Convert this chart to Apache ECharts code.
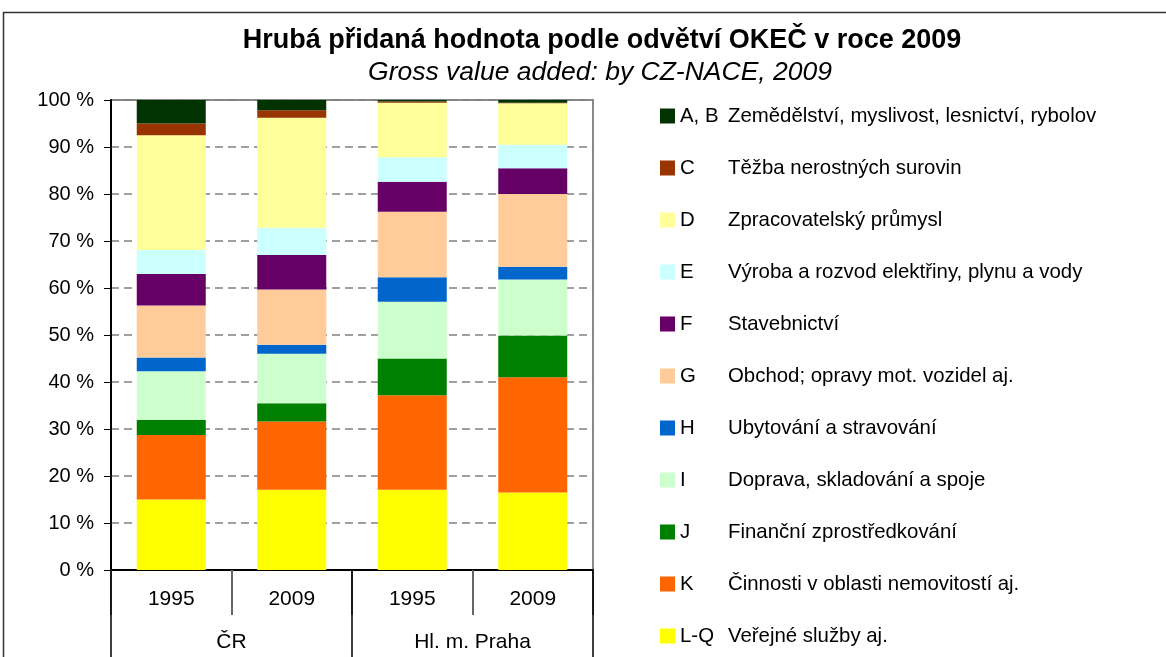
<!DOCTYPE html>
<html>
<head>
<meta charset="utf-8">
<title>Hrubá přidaná hodnota podle odvětví</title>
<script src="https://cdn.jsdelivr.net/npm/echarts@6/dist/echarts.min.js"></script>
<style>
  body { margin: 0; background: #fff; }
  #main { width: 1166px; height: 657px; }
</style>
</head>
<body>
<div id="main"></div>
<script>
// categories
var years = ['1995', '2009', '1995', '2009'];
var regions = ['ČR', 'Hl. m. Praha'];
var yTicks = [0, 10, 20, 30, 40, 50, 60, 70, 80, 90, 100];

// sections, bottom of the stack first
var codes = ['L-Q', 'K', 'J', 'I', 'H', 'G', 'F', 'E', 'D', 'C', 'A, B'];
var names = [
  'Veřejné služby aj.',
  'Činnosti v oblasti nemovitostí aj.',
  'Finanční zprostředkování',
  'Doprava, skladování a spoje',
  'Ubytování a stravování',
  'Obchod; opravy mot. vozidel aj.',
  'Stavebnictví',
  'Výroba a rozvod elektřiny, plynu a vody',
  'Zpracovatelský průmysl',
  'Těžba nerostných surovin',
  'Zemědělství, myslivost, lesnictví, rybolov'
];
var colors = ['#FFFF00', '#FF6600', '#008000', '#CCFFCC', '#0066CC', '#FFCC99',
              '#660066', '#CCFFFF', '#FFFF99', '#993300', '#003300'];

// shares in % : ČR 1995, ČR 2009, Praha 1995, Praha 2009
var valLQ = [15.0, 17.1, 17.1, 16.5];
var valK  = [13.7, 14.5, 20.1, 24.5];
var valJ  = [3.2, 3.9, 7.8, 8.9];
var valI  = [10.4, 10.5, 12.1, 11.9];
var valH  = [2.9, 1.9, 5.2, 2.7];
var valG  = [11.1, 11.8, 13.9, 15.5];
var valF  = [6.7, 7.3, 6.4, 5.5];
var valE  = [5.1, 5.8, 5.2, 5.0];
var valD  = [24.4, 23.4, 11.6, 8.8];
var valC  = [2.5, 1.6, 0.3, 0.1];
var valAB = [5.0, 2.2, 0.3, 0.6];
var values = [valLQ, valK, valJ, valI, valH, valG, valF, valE, valD, valC, valAB];

var font = 'Liberation Sans, Arial, sans-serif';

var chartDom = document.getElementById('main');
var myChart = echarts.init(chartDom);

var series = codes.map(function (code, i) {
  return {
    name: code,
    type: 'bar',
    stack: 'total',
    barWidth: 69,
    xAxisIndex: 0,
    itemStyle: { color: colors[i] },
    data: values[i]
  };
});

var option = {
  backgroundColor: '#fff',
  animation: false,
  graphic: [{
    type: 'rect',
    shape: { x: 3.5, y: 12.5, width: 1200, height: 700 },
    style: { fill: 'none', stroke: '#333', lineWidth: 1.5 },
    z: -1
  }],
  title: [{
    text: 'Hrubá přidaná hodnota podle odvětví OKEČ v roce 2009',
    left: 597, top: 22, textAlign: 'center',
    textStyle: { fontFamily: font, fontSize: 27, fontWeight: 'bold', color: '#000' }
  }, {
    text: 'Gross value added: by CZ-NACE, 2009',
    left: 595, top: 54, textAlign: 'center',
    textStyle: { fontFamily: font, fontSize: 26.5, fontWeight: 'normal', fontStyle: 'italic', color: '#000' }
  }],
  legend: {
    orient: 'vertical',
    left: 660, top: 106, padding: 0,
    itemWidth: 15, itemHeight: 15, itemGap: 32,
    icon: 'rect',
    data: codes.slice().reverse(),
    formatter: function (code) {
      return '{c|' + code + '}{n|' + names[codes.indexOf(code)] + '}';
    },
    textStyle: {
      fontFamily: font, fontSize: 20.4, color: '#000',
      rich: {
        c: { fontFamily: font, fontSize: 20.4, width: 48, lineHeight: 20 },
        n: { fontFamily: font, fontSize: 20.4, lineHeight: 20 }
      }
    }
  },
  grid: {
    left: 111, right: 573, top: 100, bottom: 87,
    show: true, borderColor: '#8a8a8a', borderWidth: 2
  },
  xAxis: [{
    type: 'category',
    data: years,
    position: 'bottom',
    axisLine: { lineStyle: { color: '#000', width: 2 } },
    axisTick: { show: true, interval: 0, length: 45, lineStyle: { color: '#666', width: 2 } },
    axisLabel: { fontFamily: font, fontSize: 21, color: '#000', margin: 19 }
  }, {
    type: 'category',
    data: regions,
    position: 'bottom',
    axisLine: { show: false },
    axisTick: { show: true, interval: 0, length: 100, lineStyle: { color: '#000', width: 1.5 } },
    axisLabel: { fontFamily: font, fontSize: 21, color: '#000', margin: 62 }
  }],
  yAxis: {
    type: 'value',
    min: 0, max: 100, interval: 10,
    axisLine: { show: true, lineStyle: { color: '#000', width: 2 } },
    axisTick: { show: true, length: 7, lineStyle: { color: '#000' } },
    axisLabel: {
      fontFamily: font, fontSize: 20, color: '#000', margin: 17,
      formatter: function (v) { return yTicks.indexOf(v) >= 0 ? v + ' %' : ''; }
    },
    splitLine: { show: true, lineStyle: { color: '#808080', type: [8, 5], width: 1.5 } }
  },
  series: series
};

option && myChart.setOption(option);
</script>
</body>
</html>
